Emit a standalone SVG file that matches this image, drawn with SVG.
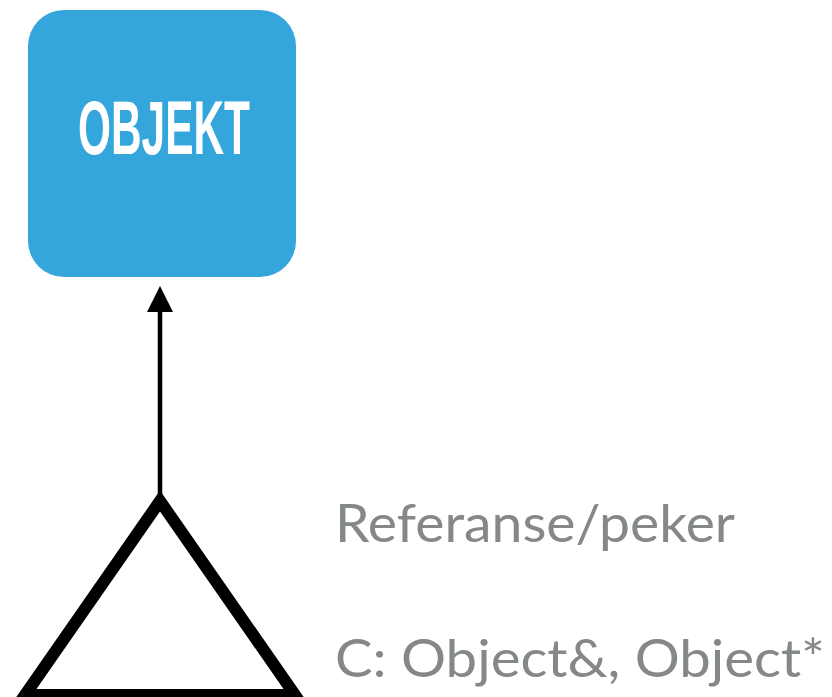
<svg xmlns="http://www.w3.org/2000/svg" width="832" height="697" viewBox="0 0 832 697">
<style>
.lbl{font-family:Lato,"Liberation Sans",sans-serif;font-size:53px;fill:#858888}
.title{font-family:"Liberation Sans",Arial,sans-serif;font-weight:bold;font-size:76px;fill:#ffffff}
</style>
<defs>
<marker id="ah" markerWidth="26" markerHeight="26" viewBox="0 0 26 26" refX="13" refY="13" orient="auto" markerUnits="userSpaceOnUse">
<path d="M0,0 L26,13 L0,26 Z" fill="#000"/>
</marker>
</defs>
<rect width="832" height="697" fill="#fff"/>
<g id="objekt">
<rect x="28" y="10" width="268" height="267" rx="36" ry="36" fill="#35a6db"/>
<text class="title" x="78" y="154" textLength="172" lengthAdjust="spacingAndGlyphs">OBJEKT</text>
</g>
<g id="connectors">
<line x1="160" y1="494" x2="160" y2="299" stroke="#000" stroke-width="4.5" marker-end="url(#ah)"/>
</g>
<g id="referanse">
<path d="M160,501 L25,695 L295,695 Z" fill="none" stroke="#000" stroke-width="12" stroke-linejoin="miter"/>
</g>
<g id="labels">
<text class="lbl" x="335" y="542" textLength="400" lengthAdjust="spacingAndGlyphs">Referanse/peker</text>
<text class="lbl" x="335" y="677" textLength="490" lengthAdjust="spacingAndGlyphs">C: Object&amp;, Object*</text>
</g>
</svg>
